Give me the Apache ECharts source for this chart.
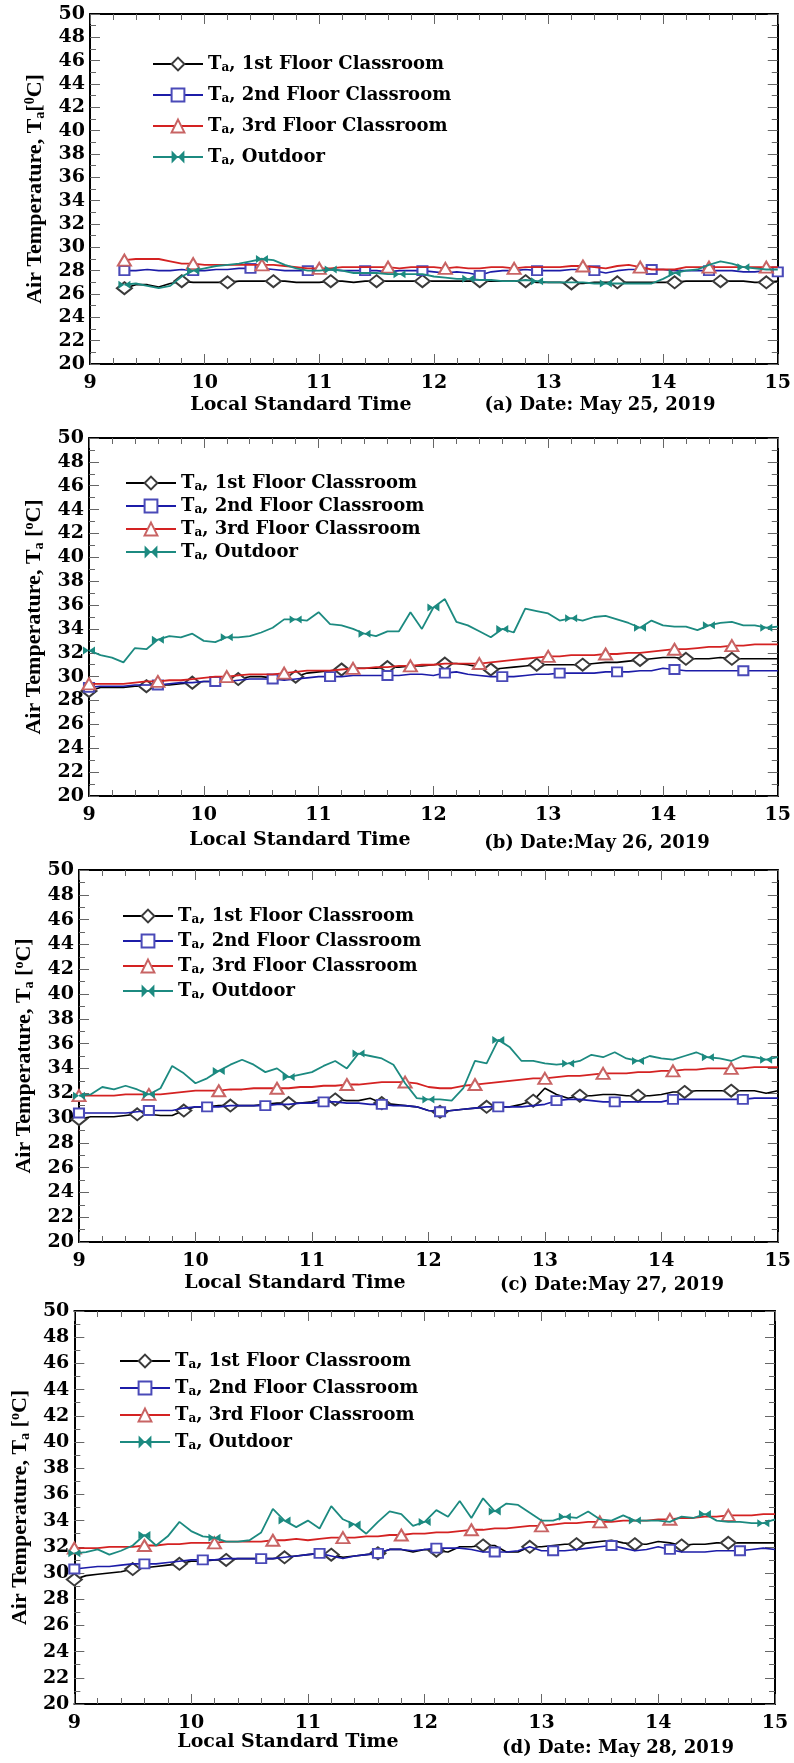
<!DOCTYPE html>
<html><head><meta charset="utf-8">
<script src="https://cdn.jsdelivr.net/npm/echarts@6/dist/echarts.min.js"></script>
<style>html,body{margin:0;padding:0;background:#fff}#c{width:794px;height:1763px}</style>
</head><body><div id="c"></div>
<script>
// ---------- DATA ----------
const SERIES_NAMES = ['1st Floor Classroom', '2nd Floor Classroom', '3rd Floor Classroom', 'Outdoor'];
const X_TICKS = [9, 10, 11, 12, 13, 14, 15];
const Y_TICKS = [20, 22, 24, 26, 28, 30, 32, 34, 36, 38, 40, 42, 44, 46, 48, 50];
const DATES = ['(a) Date: May 25, 2019', '(b) Date:May 26, 2019', '(c) Date:May 27, 2019', '(d) Date: May 28, 2019'];

const TIME_A = [9.3,9.4,9.5,9.6,9.7,9.8,9.9,
 10.0,10.1,10.2,10.3,10.4,10.5,10.6,10.7,10.8,10.9,
 11.0,11.1,11.2,11.3,11.4,11.5,11.6,11.7,11.8,11.9,
 12.0,12.1,12.2,12.3,12.4,12.5,12.6,12.7,12.8,12.9,
 13.0,13.1,13.2,13.3,13.4,13.5,13.6,13.7,13.8,13.9,
 14.0,14.1,14.2,14.3,14.4,14.5,14.6,14.7,14.8,14.9,
 15.0];
const TIME = [9.0,9.1,9.2,9.3,9.4,9.5,9.6,9.7,9.8,9.9,
 10.0,10.1,10.2,10.3,10.4,10.5,10.6,10.7,10.8,10.9,
 11.0,11.1,11.2,11.3,11.4,11.5,11.6,11.7,11.8,11.9,
 12.0,12.1,12.2,12.3,12.4,12.5,12.6,12.7,12.8,12.9,
 13.0,13.1,13.2,13.3,13.4,13.5,13.6,13.7,13.8,13.9,
 14.0,14.1,14.2,14.3,14.4,14.5,14.6,14.7,14.8,14.9,
 15.0];

// (a) May 25
const A_F1 = [26.5,26.8,26.8,26.6,26.9,27.1,27.0, 27.0,27.0,27.0,27.1,27.1,27.1,27.1,27.1,27.0,27.0, 27.0,27.1,27.1,27.0,27.1,27.1,27.1,27.1,27.1,27.1, 27.1,27.1,27.1,27.1,27.1,27.1,27.1,27.1,27.1,27.0, 27.0,27.0,26.9,26.9,27.0,27.0,27.0,27.0,27.0,27.0, 27.0,27.0,27.1,27.1,27.1,27.1,27.1,27.1,27.0,27.0, 27.1];
const A_F2 = [28.0,28.0,28.1,28.0,28.0,28.1,28.0, 28.0,28.1,28.1,28.2,28.2,28.2,28.1,28.0,28.0,28.0, 28.0,28.1,28.0,28.0,28.0,28.0,27.9,28.0,28.0,28.0, 27.9,27.8,27.9,27.8,27.6,27.9,28.0,28.0,28.1,28.0, 28.0,28.0,28.1,28.1,28.0,27.8,28.0,28.1,28.1,28.1, 28.1,28.0,28.0,28.0,28.0,28.0,28.0,27.9,27.9,28.0, 27.9];
const A_F3 = [28.9,29.0,29.0,29.0,28.8,28.6,28.6, 28.5,28.5,28.5,28.5,28.5,28.5,28.5,28.4,28.3,28.2, 28.2,28.2,28.3,28.3,28.3,28.3,28.3,28.2,28.3,28.3, 28.3,28.2,28.3,28.2,28.2,28.3,28.3,28.2,28.3,28.3, 28.3,28.3,28.4,28.4,28.3,28.2,28.4,28.5,28.3,28.1, 28.1,28.1,28.3,28.3,28.3,28.3,28.3,28.3,28.3,28.3, 28.3];
const A_OUT = [26.8,26.9,26.7,26.5,26.7,27.5,28.0, 28.2,28.4,28.5,28.6,28.8,29.0,28.9,28.5,28.2,28.0, 28.0,28.1,28.0,27.8,27.8,27.8,27.7,27.7,27.7,27.7, 27.5,27.4,27.3,27.3,27.2,27.2,27.1,27.1,27.2,27.1, 27.0,27.0,27.0,27.0,26.9,26.9,26.9,26.9,26.9,26.9, 27.3,27.8,28.0,28.1,28.5,28.8,28.6,28.3,28.2,28.1, 28.1];

// (b) May 26
const B_F1 = [28.8,29.1,29.1,29.1,29.2,29.2,29.3,29.3,29.4,29.5, 29.6,29.6,29.7,29.8,30.0,30.0,29.9,29.8,30.0,30.3, 30.4,30.5,30.6,30.7,30.7,30.7,30.8,30.8,30.9,30.9, 31.0,31.1,31.1,31.0,30.8,30.6,30.7,30.8,30.9,31.0, 31.0,31.0,31.0,31.0,31.1,31.2,31.2,31.3,31.4,31.5, 31.6,31.6,31.5,31.5,31.5,31.6,31.5,31.5,31.5,31.5, 31.5];
const B_F2 = [29.1,29.2,29.2,29.2,29.3,29.3,29.3,29.4,29.5,29.5, 29.6,29.6,29.6,29.7,29.8,29.8,29.8,29.7,29.8,29.9, 30.0,30.0,30.0,30.1,30.1,30.1,30.1,30.1,30.2,30.2, 30.1,30.3,30.4,30.2,30.1,30.0,30.0,30.0,30.1,30.2, 30.2,30.3,30.3,30.3,30.3,30.4,30.4,30.4,30.5,30.5, 30.7,30.6,30.5,30.5,30.5,30.5,30.5,30.5,30.5,30.5, 30.5];
const B_F3 = [29.4,29.4,29.4,29.4,29.5,29.6,29.6,29.7,29.7,29.8, 29.9,30.0,30.0,30.1,30.2,30.2,30.2,30.3,30.4,30.5, 30.5,30.5,30.6,30.7,30.7,30.8,30.8,30.9,30.9,31.0, 31.0,31.1,31.1,31.1,31.1,31.2,31.3,31.4,31.5,31.6, 31.7,31.7,31.8,31.8,31.8,31.9,31.9,32.0,32.0,32.1, 32.2,32.3,32.3,32.4,32.5,32.5,32.6,32.6,32.7,32.7, 32.7];
const B_OUT = [32.2,31.8,31.6,31.2,32.4,32.3,33.1,33.4,33.3,33.6, 33.0,32.9,33.3,33.3,33.4,33.7,34.1,34.8,34.8,34.7, 35.4,34.4,34.3,34.0,33.6,33.4,33.8,33.8,35.4,34.0, 35.8,36.5,34.6,34.3,33.8,33.3,34.0,33.7,35.7,35.5, 35.3,34.7,34.9,34.7,35.0,35.1,34.8,34.5,34.1,34.7, 34.3,34.2,34.2,33.9,34.3,34.5,34.6,34.3,34.3,34.1, 34.2];

// (c) May 27
const C_F1 = [29.9,30.1,30.1,30.1,30.2,30.3,30.3,30.2,30.2,30.6, 30.9,30.9,31.0,31.0,31.0,31.0,31.1,31.2,31.2,31.2, 31.3,31.6,31.5,31.4,31.4,31.6,31.2,31.1,31.0,30.9, 30.6,30.5,30.6,30.7,30.8,30.9,30.9,30.9,31.1,31.4, 32.4,31.9,31.6,31.8,31.8,31.9,31.9,31.8,31.8,31.8, 31.9,32.1,32.1,32.2,32.2,32.2,32.2,32.2,32.2,32.0, 32.2];
const C_F2 = [30.4,30.4,30.4,30.4,30.4,30.5,30.6,30.6,30.6,30.8, 30.9,30.9,30.9,31.0,31.0,31.0,31.0,31.1,31.1,31.2, 31.2,31.3,31.3,31.2,31.2,31.1,31.1,31.0,31.0,30.9, 30.6,30.5,30.6,30.7,30.8,30.9,30.9,30.9,30.9,31.0, 31.1,31.4,31.5,31.5,31.4,31.3,31.3,31.3,31.3,31.3, 31.3,31.5,31.5,31.5,31.5,31.5,31.5,31.5,31.6,31.6, 31.6];
const C_F3 = [31.8,31.8,31.8,31.8,31.9,31.9,31.9,31.9,32.0,32.1, 32.2,32.2,32.2,32.3,32.3,32.4,32.4,32.4,32.4,32.5, 32.5,32.6,32.6,32.7,32.7,32.8,32.9,32.9,32.9,32.8, 32.5,32.4,32.4,32.6,32.7,32.8,32.9,33.0,33.1,33.2, 33.2,33.3,33.4,33.4,33.5,33.6,33.6,33.6,33.7,33.7, 33.8,33.8,33.9,33.9,34.0,34.0,34.0,34.0,34.1,34.1, 34.1];
const C_OUT = [31.8,31.9,32.5,32.3,32.6,32.3,31.9,32.4,34.2,33.6, 32.8,33.2,33.8,34.3,34.7,34.3,33.7,34.0,33.3,33.5, 33.7,34.2,34.6,34.0,35.2,35.0,34.8,34.3,32.8,31.6, 31.5,31.5,31.4,32.4,34.6,34.4,36.3,35.7,34.6,34.6, 34.4,34.3,34.4,34.6,35.1,34.9,35.3,34.8,34.6,35.0, 34.8,34.7,35.0,35.3,34.9,34.8,34.6,35.0,34.9,34.7, 34.9];

// (d) May 28
const D_F1 = [29.5,29.8,29.9,30.0,30.1,30.3,30.4,30.5,30.6,30.7, 30.9,30.9,31.0,31.0,31.1,31.1,31.1,31.1,31.2,31.3, 31.4,31.5,31.4,31.2,31.3,31.4,31.5,31.8,31.8,31.6, 31.8,31.7,31.6,32.0,32.0,32.1,32.1,31.6,31.6,32.0, 32.0,32.1,32.2,32.2,32.3,32.4,32.5,32.3,32.2,32.2, 32.4,32.3,32.1,32.2,32.2,32.3,32.3,32.3,32.3,32.3, 32.3];
const D_F2 = [30.3,30.4,30.5,30.5,30.6,30.7,30.7,30.7,30.8,30.9, 31.0,31.0,31.0,31.1,31.1,31.1,31.1,31.1,31.2,31.3, 31.4,31.5,31.3,31.1,31.3,31.4,31.5,31.8,31.8,31.7, 31.8,31.9,31.9,31.9,31.8,31.6,31.6,31.6,31.7,32.0, 31.7,31.7,31.7,31.8,31.9,32.0,32.1,31.9,31.7,31.8, 32.0,31.8,31.6,31.6,31.6,31.7,31.7,31.7,31.8,31.9, 31.8];
const D_F3 = [31.9,31.9,31.9,32.0,32.0,32.0,32.1,32.1,32.2,32.2, 32.3,32.3,32.3,32.4,32.4,32.4,32.4,32.5,32.5,32.6, 32.5,32.6,32.7,32.7,32.7,32.8,32.8,32.9,32.9,33.0, 33.0,33.1,33.1,33.2,33.3,33.3,33.4,33.4,33.5,33.6, 33.6,33.7,33.8,33.8,33.9,33.9,33.9,34.0,34.0,34.0, 34.1,34.1,34.2,34.2,34.3,34.3,34.4,34.4,34.4,34.5, 34.5];
const D_OUT = [31.5,31.6,31.8,31.4,31.7,32.1,32.9,32.1,32.8,33.9, 33.2,32.8,32.7,32.4,32.4,32.5,33.1,34.9,34.0,33.5, 34.0,33.4,35.1,34.1,33.7,33.0,33.9,34.7,34.5,33.6, 33.9,34.8,34.3,35.5,34.2,35.7,34.7,35.3,35.2,34.6, 34.0,34.0,34.3,34.2,34.7,34.1,34.0,34.4,34.0,34.0, 34.0,33.9,34.3,34.2,34.5,34.0,33.9,33.9,33.8,33.8, 34.1];

// ---------- LAYOUT / STYLE ----------
const FONT_H = 'DejaVu Serif';
const FONT_V = 'Liberation Serif';
const PANELS = [
  { time: TIME_A, vals: [A_F1, A_F2, A_F3, A_OUT], grid: {left: 90, top: 14, width: 688, height: 350},
    legend: {left: 152, top: 54, gap: 11}, nameGap: 38, yName: 'Air Temperature, T{sub|a}[{sup|0}C]',
    lst: [301, 405], date: [600, 405] },
  { time: TIME, vals: [B_F1, B_F2, B_F3, B_OUT], grid: {left: 89, top: 438, width: 689, height: 358},
    legend: {left: 125, top: 473, gap: 3}, nameGap: 38, yName: 'Air Temperature, T{sub|a} [{sup|o}C]',
    lst: [300, 840], date: [597, 843] },
  { time: TIME, vals: [C_F1, C_F2, C_F3, C_OUT], grid: {left: 79, top: 870, width: 699, height: 372},
    legend: {left: 122, top: 906, gap: 5}, nameGap: 36, yName: 'Air Temperature, T{sub|a} [{sup|o}C]',
    lst: [295, 1283], date: [612, 1285] },
  { time: TIME, vals: [D_F1, D_F2, D_F3, D_OUT], grid: {left: 73, top: 1311, width: 702, height: 393},
    legend: {left: 119, top: 1351, gap: 7}, nameGap: 35, yName: 'Air Temperature, T{sub|a} [{sup|o}C]',
    lst: [288, 1742], date: [618, 1748] }
];
const STYLES = [
  { symbol: 'emptyDiamond', size: [15, 12], line: '#000000', item: '#3a3a3a', width: 1.6, every: 4.3 },
  { symbol: 'emptyRect', size: [10, 9], line: '#1c1ca8', item: '#4a4ab8', width: 1.6, every: 5.1 },
  { symbol: 'emptyTriangle', size: [13, 11], line: '#d42222', item: '#c86464', width: 1.8, every: 5.6 },
  { symbol: 'path://M0,0L10,5L0,10ZM20,0L10,5L20,10Z', size: [12, 8], line: '#1c8a80', item: '#1c8a80', width: 1.8, every: 5.9 }
];

function buildData(times, vals, every) {
  return vals.map(function (v, i) {
    const mark = i === 0 || Math.floor(i / every) !== Math.floor((i - 1) / every);
    return mark ? [times[i], v] : { value: [times[i], v], symbol: 'none' };
  });
}

const tickStyle = { color: '#666', width: 1 };
const labelStyle = { fontFamily: FONT_H, fontWeight: 'bold', fontSize: 19, color: '#000' };

const option = {
  animation: false,
  backgroundColor: '#fff',
  grid: [], xAxis: [], yAxis: [], series: [], legend: [], graphic: []
};

PANELS.forEach(function (p, i) {
  option.grid.push(Object.assign({ containLabel: false }, p.grid));
  ['bottom', 'top'].forEach(function (pos) {
    option.xAxis.push({
      gridIndex: i, type: 'value', position: pos, min: X_TICKS[0], max: X_TICKS[X_TICKS.length - 1], interval: 1,
      axisLine: { show: true, onZero: false, lineStyle: { color: '#000', width: 2 } },
      axisTick: { show: true, inside: true, length: 10, lineStyle: tickStyle },
      minorTick: { show: true, splitNumber: 5, length: 6, lineStyle: tickStyle },
      splitLine: { show: false },
      axisLabel: Object.assign({ show: pos === 'bottom', margin: 10 }, labelStyle)
    });
  });
  ['left', 'right'].forEach(function (pos) {
    const ax = {
      gridIndex: i, type: 'value', position: pos, min: Y_TICKS[0], max: Y_TICKS[Y_TICKS.length - 1], interval: 2,
      axisLine: { show: true, onZero: false, lineStyle: { color: '#000', width: 2 } },
      axisTick: { show: true, inside: true, length: 10, lineStyle: tickStyle },
      minorTick: { show: true, splitNumber: 2, length: 6, lineStyle: tickStyle },
      splitLine: { show: false },
      axisLabel: Object.assign({ show: pos === 'left', margin: 5 }, labelStyle)
    };
    if (pos === 'left') {
      ax.name = p.yName;
      ax.nameLocation = 'middle';
      ax.nameRotate = 90;
      ax.nameGap = p.nameGap;
      ax.nameTextStyle = {
        fontFamily: FONT_V, fontWeight: 'bold', fontSize: 22, color: '#000', lineHeight: 24,
        rich: {
          sub: { fontFamily: FONT_V, fontWeight: 'bold', fontSize: 14, lineHeight: 12, verticalAlign: 'bottom', color: '#000' },
          sup: { fontFamily: FONT_V, fontWeight: 'bold', fontSize: 14, lineHeight: 12, verticalAlign: 'top', color: '#000' }
        }
      };
    }
    option.yAxis.push(ax);
  });
  SERIES_NAMES.forEach(function (name, k) {
    const s = STYLES[k];
    option.series.push({
      type: 'line', name: name, xAxisIndex: i * 2, yAxisIndex: i * 2,
      data: buildData(p.time, p.vals[k], s.every),
      symbol: s.symbol, symbolSize: s.size, showAllSymbol: true, symbolKeepAspect: false,
      color: s.item,
      lineStyle: { color: s.line, width: s.width },
      itemStyle: { color: s.item, borderWidth: 1.3 },
      emphasis: { disabled: true },
      z: 2 + k
    });
  });
  option.legend.push({
    orient: 'vertical', left: p.legend.left, top: p.legend.top, itemGap: p.legend.gap,
    itemWidth: 50, itemHeight: 16, padding: 0, selectedMode: false,
    data: SERIES_NAMES,
    formatter: function (n) { return 'T{sub|a}, ' + n; },
    textStyle: {
      fontFamily: FONT_H, fontWeight: 'bold', fontSize: 18, color: '#000', lineHeight: 20,
      rich: { sub: { fontFamily: FONT_H, fontWeight: 'bold', fontSize: 12, lineHeight: 10, verticalAlign: 'bottom', color: '#000' } }
    }
  });
  option.graphic.push({
    type: 'text', x: p.lst[0], y: p.lst[1],
    style: { text: 'Local Standard Time', fontFamily: FONT_H, fontWeight: 'bold', fontSize: 19, fill: '#000', align: 'center', verticalAlign: 'middle' }
  });
  option.graphic.push({
    type: 'text', x: p.date[0], y: p.date[1],
    style: { text: DATES[i], fontFamily: FONT_H, fontWeight: 'bold', fontSize: 18, fill: '#000', align: 'center', verticalAlign: 'middle' }
  });
});

const chart = echarts.init(document.getElementById('c'), null, { renderer: 'canvas', width: 794, height: 1763 });
chart.setOption(option);
</script>
</body></html>
